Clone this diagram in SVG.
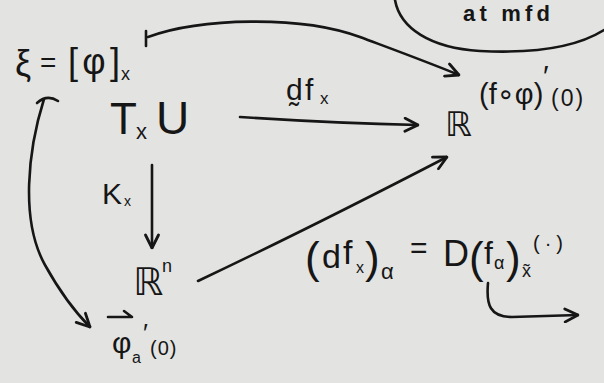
<svg xmlns="http://www.w3.org/2000/svg" width="604" height="383" viewBox="0 0 604 383">
<defs>
<style>
.t{font-family:"Liberation Sans","DejaVu Sans",sans-serif;fill:#161616}
.c{fill:none;stroke:#161616;stroke-width:2.6;stroke-linecap:round;stroke-linejoin:round}
</style>
<marker id="ah" viewBox="0 0 16 16" markerWidth="16" markerHeight="16" refX="15" refY="8" orient="auto" markerUnits="userSpaceOnUse">
<path d="M2,1.5 L15,8 L2,14.5" fill="none" stroke="#161616" stroke-width="2.8" stroke-linecap="round" stroke-linejoin="round"/>
</marker>
</defs>
<rect width="604" height="383" fill="#e3e3e1"/>

<g id="note">
<path class="c" d="M395,0 C400,28 430,48 480,51 C540,54 580,45 604,30"/>
<text class="t" x="463" y="21" font-size="22" font-weight="bold" textLength="87" lengthAdjust="spacing">at mfd</text>
</g>

<g id="xi">
<text class="t" font-size="36"><tspan x="15" y="76">ξ</tspan><tspan x="40" y="72" font-size="28">=</tspan><tspan x="68" y="74" textLength="52" lengthAdjust="spacing">[φ]</tspan><tspan x="121" y="80" font-size="18">x</tspan></text>
</g>

<g id="TxU">
<text class="t"><tspan x="110" y="134" font-size="44">T</tspan><tspan x="136" y="139" font-size="22">x</tspan><tspan x="156" y="134" font-size="46">U</tspan></text>
</g>

<g id="R">
<text class="t" x="445" y="136" font-size="34">ℝ</text>
</g>

<g id="fphi">
<text class="t"><tspan x="479" y="104" font-size="29">(f∘φ)</tspan><tspan x="543" y="86" font-size="30">′</tspan><tspan x="551" y="106" font-size="23" letter-spacing="2">(0)</tspan></text>
</g>

<g id="Rn">
<text class="t"><tspan x="133" y="295" font-size="38">ℝ</tspan><tspan x="162" y="272" font-size="18">n</tspan></text>
</g>

<g id="phi">
<path class="c" d="M108,317 L132,317 M124,311 L132,317" stroke-width="2.4"/>
<text class="t"><tspan x="112" y="353" font-size="30">φ</tspan><tspan x="132" y="363" font-size="16">a</tspan><tspan x="143" y="342" font-size="26">′</tspan><tspan x="150" y="355" font-size="20" letter-spacing="1">(0)</tspan></text>
</g>

<g id="eq">
<text class="t"><tspan x="305" y="273" font-size="44">(</tspan><tspan x="322" y="268" font-size="34">d</tspan><tspan x="343" y="264" font-size="34">f</tspan><tspan x="356" y="273" font-size="16">x</tspan><tspan x="365" y="273" font-size="44">)</tspan><tspan x="381" y="279" font-size="22">α</tspan><tspan x="410" y="258" font-size="30">=</tspan><tspan x="443" y="266" font-size="36">D</tspan><tspan x="469" y="273" font-size="44">(</tspan><tspan x="484" y="264" font-size="32">f</tspan><tspan x="494" y="269" font-size="18">α</tspan><tspan x="506" y="273" font-size="44">)</tspan><tspan x="522" y="277" font-size="18">x̃</tspan><tspan x="533" y="250" font-size="20" textLength="30" lengthAdjust="spacing">(·)</tspan></text>
</g>

<g id="connectors">
<path class="c" d="M146,31 L146,46"/>
<path class="c" d="M148,37 C200,18 300,15 360,37 C400,52 430,63 459,75" marker-end="url(#ah)"/>
<path class="c" d="M240,117 C300,121 370,124 418,125" marker-end="url(#ah)"/>
<text class="t"><tspan x="286" y="100" font-size="30">d̰</tspan><tspan x="305" y="100" font-size="30">f</tspan><tspan x="320" y="104" font-size="17">x</tspan></text>
<path class="c" d="M152,165 L152,248" marker-end="url(#ah)"/>
<text class="t"><tspan x="102" y="204" font-size="30">K</tspan><tspan x="124" y="206" font-size="14">x</tspan></text>
<path class="c" d="M198,281 Q310,228 447,157" marker-end="url(#ah)"/>
<path class="c" d="M37,103 Q47,94 58,101"/>
<path class="c" d="M44,99 C28,150 20,220 45,265 C60,292 75,312 90,327" marker-end="url(#ah)"/>
<path class="c" d="M488,283 C486,305 490,317 512,317 L578,315" marker-end="url(#ah)"/>
</g>
</svg>
